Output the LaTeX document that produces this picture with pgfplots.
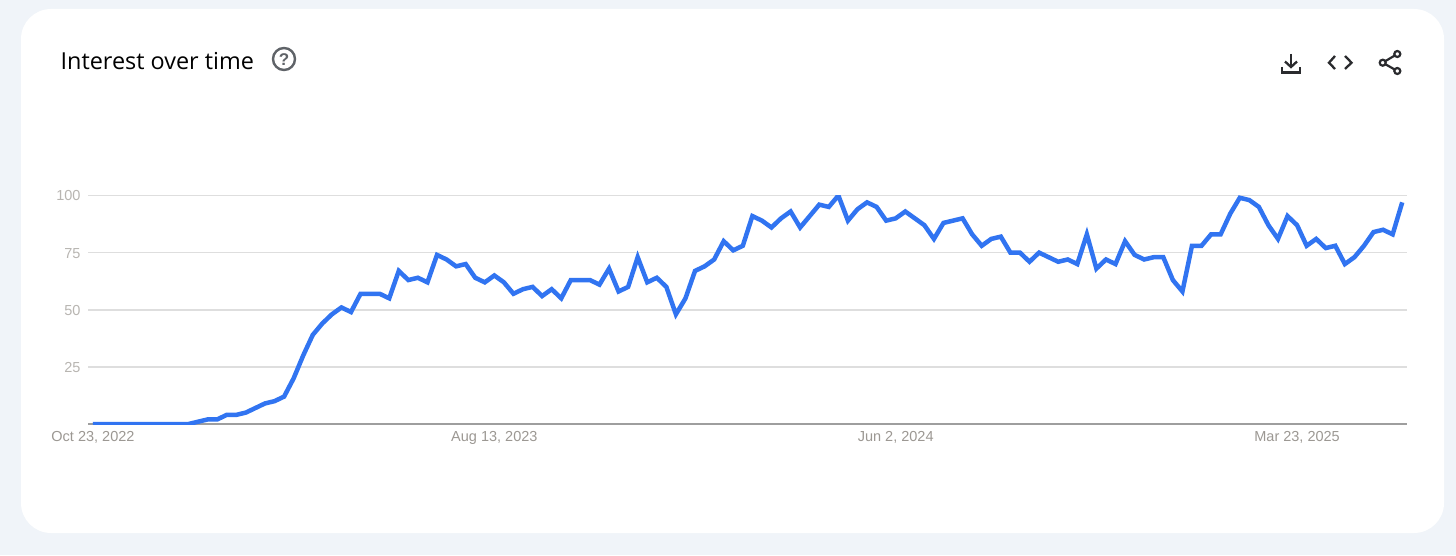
\documentclass[border=0pt]{standalone}
\usepackage{fontspec}
\setmainfont{Liberation Sans}
\newfontfamily\titlefont{Open Sans}
\usepackage{pgfplots}
\usepackage{pgfplotstable}
\pgfplotsset{compat=1.18}

\definecolor{pagebg}{HTML}{F0F4F9}
\definecolor{trend}{HTML}{3174F1}
\definecolor{gridc}{HTML}{DEDEDE}
\definecolor{axisc}{HTML}{9E9E9E}
\definecolor{ylab}{HTML}{B8B5B1}
\definecolor{xlab}{HTML}{9C9893}
\definecolor{iconc}{HTML}{2A2B2E}
\definecolor{helpc}{HTML}{5F6368}

\pgfplotstableread{
w v
0 0
1 0
2 0
3 0
4 0
5 0
6 0
7 0
8 0
9 0
10 0
11 1
12 2
13 2
14 4
15 4
16 5
17 7
18 9
19 10
20 12
21 20
22 30
23 39
24 44
25 48
26 51
27 49
28 57
29 57
30 57
31 55
32 67
33 63
34 64
35 62
36 74
37 72
38 69
39 70
40 64
41 62
42 65
43 62
44 57
45 59
46 60
47 56
48 59
49 55
50 63
51 63
52 63
53 61
54 68
55 58
56 60
57 73
58 62
59 64
60 60
61 48
62 55
63 67
64 69
65 72
66 80
67 76
68 78
69 91
70 89
71 86
72 90
73 93
74 86
75 91
76 96
77 95
78 100
79 89
80 94
81 97
82 95
83 89
84 90
85 93
86 90
87 87
88 81
89 88
90 89
91 90
92 83
93 78
94 81
95 82
96 75
97 75
98 71
99 75
100 73
101 71
102 72
103 70
104 83
105 68
106 72
107 70
108 80
109 74
110 72
111 73
112 73
113 63
114 58
115 78
116 78
117 83
118 83
119 92
120 99
121 98
122 95
123 87
124 81
125 91
126 87
127 78
128 81
129 77
130 78
131 70
132 73
133 78
134 84
135 85
136 83
137 97
}\trendtable

\begin{document}
\begin{tikzpicture}[x=1pt,y=1pt]
% page and card, 1pt = 1px of the reference, y measured from the bottom
\fill[pagebg] (0,0) rectangle (1456,555);
\fill[white,rounded corners=30pt] (21,22) rectangle (1444,546);

\begin{axis}[
    at={(88pt,131pt)},
    anchor=south west,
    scale only axis,
    width=1319pt,
    height=228.5pt,
    xmin=-0.52, xmax=137.5,
    ymin=0, ymax=100,
    axis lines=left,
    axis line style={-},
    x axis line style={axisc,line width=1.3pt},
    y axis line style={draw=none},
    xtick={0,42,84,126},
    xticklabels={{Oct 23, 2022},{Aug 13, 2023},{Jun 2, 2024},{Mar 23, 2025}},
    ytick={25,50,75,100},
    major tick length=0pt,
    ymajorgrids,
    major grid style={gridc,line width=1.6pt},
    /pgf/number format/assume math mode=true,
    xticklabel style={font=\fontsize{14.5}{16}\selectfont,text=xlab,yshift=-3.5pt},
    yticklabel style={font=\fontsize{14.5}{16}\selectfont,text=ylab,xshift=-4pt,yshift=-0.5pt},
]
\addplot[trend,line width=4.5pt,line join=miter,no markers] table[x=w,y=v] {\trendtable};
\end{axis}

\node[anchor=base west,inner sep=0pt,text=black,font=\titlefont\fontsize{23.4}{26}\selectfont] at (60.5,485.7) {Interest over time};

% help icon
\draw[helpc,line width=2.4pt] (284,496) circle (11);
\node[text=helpc,inner sep=0pt,font=\bfseries\fontsize{17}{18}\selectfont] at (284,495.5) {?};

% download
\draw[iconc,line width=2.3pt] (1291,501) -- (1291,489);
\draw[iconc,line width=2.3pt] (1285,493.5) -- (1291,488) -- (1297,493.5);
\draw[iconc,line width=2.3pt] (1282,488) -- (1282,482.5) -- (1300,482.5) -- (1300,488);

% embed
\draw[iconc,line width=2.3pt] (1335,499) -- (1329,492.3) -- (1335,486);
\draw[iconc,line width=2.3pt] (1345,499) -- (1351.5,492.3) -- (1345,486);

% share
\draw[iconc,line width=2.2pt] (1397.3,501) -- (1382.7,492.3) -- (1397.3,484);
\fill[white,draw=iconc,line width=2.2pt] (1397.3,501) circle (3);
\fill[white,draw=iconc,line width=2.2pt] (1382.7,492.3) circle (3);
\fill[white,draw=iconc,line width=2.2pt] (1397.3,484) circle (3);
\end{tikzpicture}
\end{document}
